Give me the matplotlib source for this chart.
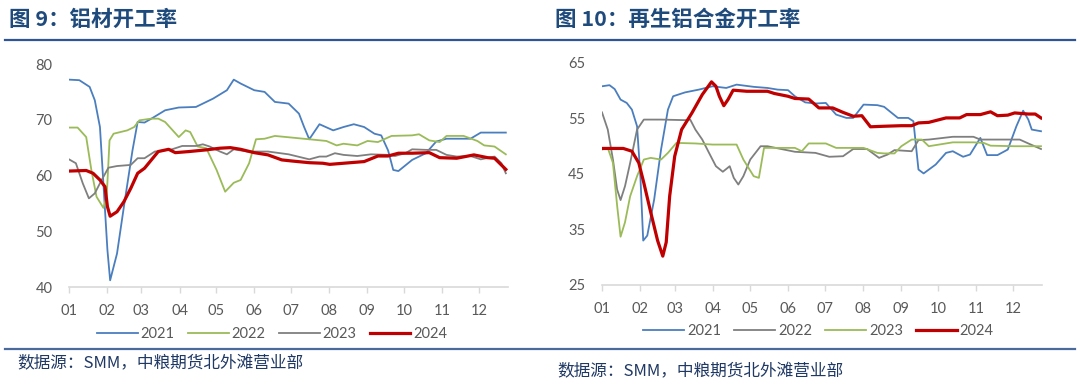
import numpy as np
import matplotlib
matplotlib.use("Agg")
import matplotlib.pyplot as plt
from matplotlib.lines import Line2D

plt.rcParams['font.family'] = ['Lato', 'Noto Sans CJK SC', 'DejaVu Sans']

# 月份刻度 (day of year of each month start)
month_days = [0, 31, 59, 90, 120, 151, 181, 212, 243, 273, 304, 334]
month_labels = ['01', '02', '03', '04', '05', '06', '07', '08', '09', '10', '11', '12']

# ---- 图9 铝材开工率 ----
al_2021_d = [0, 8.4, 16.8, 21, 25.2, 28, 31.3, 33.5, 39.1, 44.7, 51.7, 55.9, 61.5, 67.1, 78.3, 89.4,
             103.4, 109, 117.4, 128.6, 134.2, 139.8, 150.9, 159.3, 167.7, 178.9, 187.3, 191.5, 195.7,
             204, 215.2, 223.6, 232, 240.4, 248.8, 254.3, 259.9, 264.1, 268.3, 279.5, 290.7, 299.1,
             307.5, 327, 335.4, 346.6, 355.8]
al_2021 = [77.2, 77.1, 75.9, 73.5, 68.7, 58.6, 46.6, 41.2, 46, 54.4, 64.5, 69.6, 69.5, 70.2, 71.7, 72.2,
           72.3, 72.9, 73.8, 75.3, 77.2, 76.5, 75.3, 75.0, 73.2, 72.9, 71.1, 68.7, 66.5,
           69.2, 68.1, 68.7, 69.2, 68.7, 67.5, 67.2, 64.5, 61.0, 60.8, 62.8, 64.0, 66.1,
           66.6, 66.6, 67.7, 67.7, 67.7]

al_2022_d = [0, 7, 14, 18.2, 22.4, 28, 30.7, 33, 36.3, 47.5, 53.1, 57.3, 67.1, 72.7, 78.3, 89.4, 95,
             98.7, 104.8, 111.8, 120.2, 127.2, 134.2, 139.8, 146.7, 152.3, 159.3, 167.7, 181.7,
             195.7, 209.6, 218, 223.6, 234.8, 243.2, 251.6, 262.7, 279.5, 285.1, 293.5, 301.9,
             307.5, 321.4, 332.6, 338.2, 346.6, 355.8]
al_2022 = [68.6, 68.6, 66.9, 61.0, 56.2, 54.2, 56.2, 66.3, 67.5, 68.1, 68.7, 69.9, 70.2, 70.2, 69.6, 66.9, 68.1,
           67.8, 65.2, 64.9, 61.0, 57.1, 58.7, 59.2, 62.2, 66.5, 66.6, 67.1, 66.8,
           66.5, 66.2, 65.4, 65.7, 65.4, 66.2, 66.0, 67.1, 67.2, 67.4, 66.3, 66.0,
           67.1, 67.1, 66.2, 65.4, 65.2, 63.8]

al_2023_d = [0, 5.6, 11.2, 16.2, 21, 26.6, 32.1, 39.1, 50.3, 55.9, 61.5, 69.9, 83.9, 92.2, 103.4, 109,
             114.6, 123, 128.6, 134.2, 145.3, 162.1, 178.9, 190.1, 195.7, 204, 209.6, 216.6, 223.6,
             234.8, 246, 259.9, 265.5, 273.9, 279.5, 290.7, 299.1, 307.5, 315.8, 327, 335.4,
             346.6, 352.2, 355.8]
al_2023 = [62.9, 62.2, 58.6, 55.9, 56.8, 59.2, 61.4, 61.7, 61.9, 63.1, 63.1, 64.3, 64.7, 65.3, 65.3, 65.6,
           65.2, 64.3, 63.8, 64.7, 64.3, 64.3, 63.8, 63.2, 62.9, 63.4, 63.4, 64.0, 63.7,
           63.5, 63.8, 63.7, 63.5, 64.0, 64.7, 64.6, 64.6, 63.7, 63.4, 63.5, 62.9,
           63.4, 62.2, 60.4]

al_2024_d = [0, 14, 19.6, 25.2, 29.3, 31.3, 33.5, 39.1, 44.7, 50.3, 55.9, 61.5, 67.1, 72.7, 81.1, 86.6,
             97.8, 111.8, 123, 131.4, 139.8, 150.9, 162.1, 173.3, 181.7, 195.7, 206.8, 212.4, 223.6,
             240.4, 251.6, 259.9, 268.3, 279.5, 293.5, 301.9, 315.8, 329.8, 341, 346.6, 355.8]
al_2024 = [60.8, 60.9, 60.4, 59.2, 58.0, 54.4, 52.7, 53.5, 55.3, 57.7, 60.4, 61.3, 62.8, 64.3, 64.7, 64.1,
           64.3, 64.6, 64.9, 65.0, 64.7, 64.1, 63.7, 62.8, 62.6, 62.3, 62.2, 62.0, 62.2,
           62.5, 63.5, 63.5, 64.0, 64.0, 64.1, 63.2, 63.1, 63.7, 63.2, 63.1, 61.1]

# ---- 图10 再生铝合金开工率 ----
ra_2021_d = [0, 6.1, 10.3, 15.1, 20.1, 24.3, 28.5, 31.2, 33.5, 36.8, 42.4, 48, 53.6, 57.8, 67.5, 78.7,
             89.8, 101, 109.4, 123.3, 134.5, 142.8, 151.2, 156.8, 165.2, 173.5, 181.9, 190.3, 198.6,
             204.2, 212.6, 223.8, 229.3, 234.9, 240.5, 248.9, 253.1, 257.2, 261.4, 271.2, 279.6,
             285.1, 293.5, 299.1, 307.5, 313, 321.4, 329.8, 336.8, 342.3, 346.5, 349.3, 356.8]
ra_2021 = [60.8, 61.0, 60.3, 58.4, 57.8, 56.6, 53.6, 44.6, 33.0, 33.9, 40.4, 49.4, 56.6, 59.0, 59.7, 60.2,
           60.8, 60.5, 61.1, 60.7, 60.5, 60.2, 60.1, 59.0, 57.9, 57.7, 57.8, 55.7, 55.1,
           55.1, 57.5, 57.4, 57.1, 56.1, 55.1, 55.1, 54.5, 45.8, 45.1, 46.7, 48.8,
           49.1, 48.1, 48.5, 51.5, 48.4, 48.4, 49.4, 53.6, 56.4, 54.8, 53.0, 52.7]

ra_2022_d = [0, 4.7, 8.9, 12.3, 15.1, 18.7, 22.9, 28.5, 34, 48, 67.5, 71.7, 75.9, 81.5, 87, 92.6, 98.2,
             103.8, 107.1, 110.8, 114.9, 120.5, 128.9, 134.5, 145.6, 156.8, 173.5, 184.7, 195.9,
             204.2, 215.4, 225.2, 232.1, 237.7, 251.7, 257.2, 265.6, 285.1, 301.9, 307.5, 318.6,
             339.5, 346.5, 356.8]
ra_2022 = [56.1, 53.0, 47.6, 42.2, 40.3, 42.8, 47.0, 53.0, 54.8, 54.8, 54.7, 54.8, 53.0, 51.2, 48.8, 46.4, 45.4,
           46.4, 44.3, 43.1, 44.6, 47.6, 50.0, 50.0, 49.5, 49.0, 48.8, 48.1, 48.2,
           49.5, 49.5, 47.9, 48.5, 49.3, 49.1, 51.1, 51.2, 51.7, 51.7, 51.2, 51.2,
           51.2, 50.5, 49.5]

ra_2023_d = [0, 4.7, 8.9, 12.3, 15.1, 18.7, 22.9, 28.5, 34, 39.6, 48, 53.6, 60.5, 75.9, 89.8, 109.4,
             114.9, 123.3, 127.5, 131.7, 145.6, 156.8, 162.4, 168, 181.9, 190.3, 212.6, 223.8,
             229.3, 237.7, 243.3, 251.7, 260, 265.6, 285.1, 301.9, 310.2, 315.8, 335.4, 356.8]
ra_2023 = [49.4, 49.7, 47.0, 39.3, 33.7, 36.3, 41.0, 44.6, 47.6, 47.9, 47.6, 48.8, 50.6, 50.5, 50.3, 50.3,
           47.6, 44.6, 44.3, 49.7, 49.7, 49.7, 49.1, 50.5, 50.5, 49.7, 49.7, 48.8,
           48.7, 48.7, 50.0, 51.2, 51.2, 50.0, 50.7, 50.7, 50.6, 50.1, 50.0, 50.0]

ra_2024_d = [0, 17.3, 24.3, 29.9, 34, 39.6, 45.2, 49.4, 52.2, 55, 59.1, 64.7, 73.1, 81.5, 89, 92.6, 95.4,
             99, 102.4, 106.6, 117.7, 134.5, 140.1, 151.2, 156.8, 168, 176.3, 187.5, 195.9, 204.2,
             211.2, 218.2, 229.3, 243.3, 251.7, 257.2, 265.6, 279.6, 290.7, 296.3, 307.5, 315.8,
             321.4, 329.8, 335.4, 346.5, 352.1, 356.8]
ra_2024 = [49.6, 49.6, 49.1, 47.0, 43.4, 38.1, 33.0, 30.2, 32.7, 41.0, 48.2, 53.0, 56.0, 59.3, 61.6, 60.8, 59.0,
           57.3, 58.4, 60.1, 59.9, 59.9, 59.5, 59.0, 58.6, 58.5, 56.9, 56.9, 56.1, 55.4,
           55.5, 53.5, 53.6, 53.7, 53.7, 54.2, 54.3, 55.1, 55.1, 55.7, 55.7, 56.2,
           55.5, 55.6, 56.0, 55.8, 55.8, 55.1]

c_blue = '#4a7ebf'
c_green = '#9bbb59'
c_gray = '#7f7f7f'
c_red = '#c00000'
title_color = '#1f4a7c'
tick_color = '#595959'

fig = plt.figure(figsize=(10.8, 3.88), dpi=100)

ax1 = fig.add_axes([0.0639, 0.2603, 0.4065, 0.5747])
ax2 = fig.add_axes([0.5574, 0.2655, 0.4074, 0.5722])

ax1.plot(al_2021_d, al_2021, color=c_blue, lw=1.3, label='2021')
ax1.plot(al_2022_d, al_2022, color=c_green, lw=1.3, label='2022')
ax1.plot(al_2023_d, al_2023, color=c_gray, lw=1.3, label='2023')
ax1.plot(al_2024_d, al_2024, color=c_red, lw=2.3, label='2024')
ax1.set_ylim(40, 80)
ax1.set_yticks([40, 50, 60, 70, 80])

ax2.plot(ra_2021_d, ra_2021, color=c_blue, lw=1.3, label='2021')
ax2.plot(ra_2022_d, ra_2022, color=c_gray, lw=1.3, label='2022')
ax2.plot(ra_2023_d, ra_2023, color=c_green, lw=1.3, label='2023')
ax2.plot(ra_2024_d, ra_2024, color=c_red, lw=2.3, label='2024')
ax2.set_ylim(25, 65)
ax2.set_yticks([25, 35, 45, 55, 65])

for ax in (ax1, ax2):
    ax.set_xlim(0, 357.6)
    ax.set_xticks(month_days)
    ax.set_xticklabels(month_labels)
    for s in ['top', 'right', 'left']:
        ax.spines[s].set_visible(False)
    ax.spines['bottom'].set_color('#d9d9d9')
    ax.spines['bottom'].set_linewidth(1.2)
    ax.tick_params(axis='x', colors='#d9d9d9', length=4, width=1, pad=8, labelcolor=tick_color, labelsize=10.5)
    ax.tick_params(axis='y', length=0, pad=12, labelcolor=tick_color, labelsize=10.5)
    ax.patch.set_visible(False)

leg_kw = dict(ncol=4, frameon=False, fontsize=10.5, handlelength=2.8, handletextpad=0.2,
              columnspacing=0.9, labelcolor=tick_color, loc='center')
h1, l1 = ax1.get_legend_handles_labels()
fig.legend(h1, l1, bbox_to_anchor=(0.252, 0.139), **leg_kw)
h2, l2 = ax2.get_legend_handles_labels()
fig.legend(h2, l2, bbox_to_anchor=(0.758, 0.146), **leg_kw)

# titles
fig.text(0.008, 0.951, '图 9：铝材开工率', fontsize=15.5, fontweight='bold', color=title_color,
         va='center', ha='left', family=['Noto Sans CJK SC', 'DejaVu Sans'])
fig.text(0.514, 0.951, '图 10：再生铝合金开工率', fontsize=15.5, fontweight='bold', color=title_color,
         va='center', ha='left', family=['Noto Sans CJK SC', 'DejaVu Sans'])

# rules
fig.add_artist(Line2D([0.005, 0.995], [0.898, 0.898], color='#2e5597', lw=1.6, transform=fig.transFigure))
fig.add_artist(Line2D([0.005, 0.995], [0.100, 0.100], color='#4a6a9c', lw=1.6, transform=fig.transFigure))

# sources
fig.text(0.016, 0.062, '数据源：SMM，中粮期货北外滩营业部', fontsize=12, color='#1f3864', style='italic',
         va='center', ha='left', family=['Noto Sans CJK SC', 'DejaVu Sans'])
fig.text(0.516, 0.041, '数据源：SMM，中粮期货北外滩营业部', fontsize=12, color='#1f3864', style='italic',
         va='center', ha='left', family=['Noto Sans CJK SC', 'DejaVu Sans'])

fig.savefig('out.png', dpi=100)
